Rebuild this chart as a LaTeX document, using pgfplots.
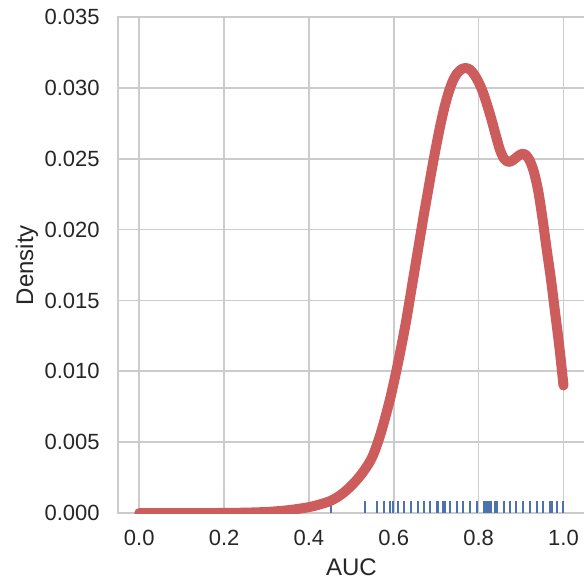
\documentclass[border=0pt]{standalone}
\usepackage{pgfplots}
\pgfplotsset{compat=1.18}
\usepackage{fontspec}
\setmainfont{Liberation Sans}
\usetikzlibrary{calc}
\definecolor{kdered}{RGB}{205,92,92}
\definecolor{rugblue}{RGB}{76,114,176}
\definecolor{gridgray}{RGB}{204,204,204}
\definecolor{textgray}{RGB}{38,38,38}

\begin{document}
\begin{tikzpicture}
\begin{axis}[
  scale only axis,
  width=233.3pt, height=248pt,
  xmin=-0.05, xmax=1.05, ymin=0, ymax=0.035,
  xtick={0,0.2,0.4,0.6,0.8,1.0},
  ytick={0,0.005,0.01,0.015,0.02,0.025,0.03,0.035},
  scaled y ticks=false, scaled x ticks=false,
  major tick length=0pt,
  tick style={draw=none},
  grid=major,
  grid style={gridgray, line width=0.85pt},
  axis line style={gridgray, line width=0.85pt},
  /pgf/number format/assume math mode=true,
  ticklabel style={font=\fontsize{11}{13}\selectfont, text=textgray},
  xticklabel style={/pgf/number format/.cd, fixed, fixed zerofill, precision=1, /tikz/.cd, anchor=north, inner sep=0pt, yshift=-8.5pt},
  yticklabel style={/pgf/number format/.cd, fixed, fixed zerofill, precision=3, /tikz/.cd, anchor=east, inner sep=0pt, xshift=-9pt},
  label style={font=\fontsize{12}{14}\selectfont, text=textgray},
  xlabel={AUC},
  ylabel={Density},
  xlabel style={at={(axis description cs:0.5,0)}, anchor=base, yshift=-31pt},
  ylabel style={at={(axis description cs:0,0.5)}, rotate=0, anchor=base, yshift=42.5pt},
]
% rug of individual AUC values
\addplot[rugblue, line width=1pt, ycomb, no markers] coordinates {
  (0.453,0.00085) (0.531,0.00085) (0.561,0.00085) (0.577,0.00085)
  (0.592,0.00085) (0.597,0.00085) (0.609,0.00085) (0.624,0.00085)
  (0.640,0.00085) (0.656,0.00085) (0.671,0.00085) (0.686,0.00085)
  (0.701,0.00085) (0.705,0.00085) (0.716,0.00085) (0.721,0.00085)
  (0.732,0.00085) (0.749,0.00085) (0.763,0.00085) (0.780,0.00085)
  (0.796,0.00085) (0.812,0.00085) (0.816,0.00085) (0.819,0.00085)
  (0.824,0.00085) (0.828,0.00085) (0.838,0.00085) (0.843,0.00085)
  (0.859,0.00085) (0.874,0.00085) (0.889,0.00085) (0.904,0.00085)
  (0.920,0.00085) (0.937,0.00085) (0.952,0.00085) (0.968,0.00085)
  (0.973,0.00085) (0.985,0.00085) (1.000,0.00085)
};
% kde curve
\addplot[kdered, line width=5pt, line cap=round, line join=round, smooth, no markers] coordinates {
  (0.00,0.00000) (0.05,0.00000) (0.10,0.00000) (0.15,0.00000)
  (0.20,0.00001) (0.25,0.00003) (0.30,0.00008) (0.35,0.00020)
  (0.40,0.00042) (0.43,0.00065) (0.45,0.00085) (0.47,0.00118)
  (0.49,0.00165) (0.51,0.00225) (0.53,0.00300) (0.55,0.00400)
  (0.57,0.00570) (0.59,0.00790) (0.60,0.00920) (0.61,0.01060)
  (0.62,0.01210) (0.63,0.01370) (0.64,0.01550) (0.65,0.01730)
  (0.66,0.01910) (0.67,0.02090) (0.68,0.02260) (0.69,0.02430)
  (0.70,0.02590) (0.71,0.02740) (0.72,0.02870) (0.73,0.02975)
  (0.74,0.03055) (0.75,0.03105) (0.76,0.03132) (0.77,0.03140)
  (0.78,0.03128) (0.79,0.03092) (0.80,0.03040) (0.81,0.02970)
  (0.82,0.02880) (0.83,0.02780) (0.84,0.02670) (0.85,0.02565)
  (0.86,0.02500) (0.87,0.02478) (0.88,0.02488) (0.89,0.02512)
  (0.90,0.02532) (0.91,0.02530) (0.92,0.02490) (0.93,0.02410)
  (0.94,0.02280) (0.95,0.02090) (0.96,0.01870) (0.97,0.01660)
  (0.98,0.01420) (0.99,0.01180) (1.00,0.00900)
};
\coordinate (bl) at (rel axis cs:0,0);
\coordinate (tr) at (rel axis cs:1,1);
\end{axis}
\pgfresetboundingbox
\path[use as bounding box] ($(bl)+(-59pt,-35pt)$) rectangle ($(tr)+(-0.35pt,8.5pt)$);
\end{tikzpicture}
\end{document}
